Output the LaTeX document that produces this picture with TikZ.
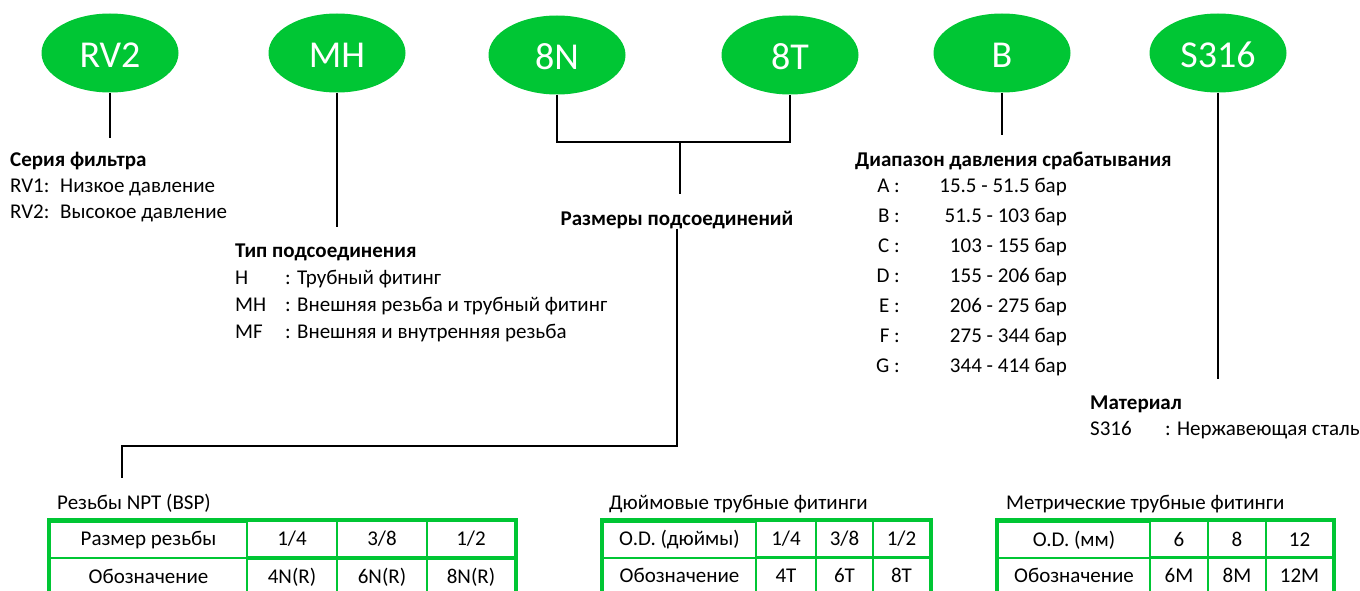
\documentclass[tikz,border=0pt]{standalone}
\usepackage{fontspec}
\setmainfont{Carlito}
\usetikzlibrary{shapes.geometric,positioning,matrix}
\definecolor{codegreen}{RGB}{0,198,52}

\begin{document}
\begin{tikzpicture}[x=1pt,y=-1pt,
  code/.style={ellipse,fill=codegreen,text=white,minimum width=137pt,
    minimum height=79pt,inner sep=0pt,text height=30pt,text depth=0pt,
    font=\fontsize{38}{42}\selectfont},
  lead/.style={line width=1.8pt},
  txt/.style={inner sep=0pt,font=\fontsize{21}{26}\selectfont},
  head/.style={inner sep=0pt,font=\fontsize{21}{26}\selectfont\bfseries},
  cell/.style={draw=codegreen,line width=2pt,minimum height=36pt,
    inner sep=0pt,outer sep=0pt,font=\fontsize{21}{24}\selectfont},
  codetable/.style={matrix of nodes,draw=codegreen,line width=4pt,
    inner sep=0pt,outer sep=0pt,column sep=-2pt,row sep=-2pt,
    nodes={cell},anchor=north west,ampersand replacement=\&}]
\useasboundingbox (0,0) rectangle (1360,591);
\clip (0,0) rectangle (1360,591);

% order code
\node[code] (rv2) at (110,53) {RV2};
\node[code] (mh) at (337,53) {MH};
\node[code] (n8) at (557,55) {8N};
\node[code] (t8) at (790,55) {8T};
\node[code] (b) at (1002,53) {B};
\node[code] (s316) at (1218,53) {S316};

\coordinate (rv2end) at (110,138);
\coordinate (mhend) at (337,227);
\coordinate (sizejoin) at (680,142);
\coordinate (sizeend) at (680,194);
\coordinate (bend) at (1002,135);
\coordinate (s316end) at (1218,379);
\coordinate (nptturn) at (122,446);
\coordinate (nptend) at (122,478);

% legends
\node[txt,anchor=base west] (series) at (10,166) {%
  \begin{tabular}[t]{@{}p{50pt}@{}l@{}}
  \multicolumn{2}{@{}l@{}}{\bfseries Серия фильтра}\\
  RV1: & Низкое давление\\
  RV2: & Высокое давление
  \end{tabular}};
\node[txt,anchor=base west,font=\fontsize{21}{27}\selectfont] (ports) at (235,257) {%
  \begin{tabular}[t]{@{}p{50pt}@{}l@{}}
  \multicolumn{2}{@{}l@{}}{\bfseries Тип подсоединения}\\
  H & : Трубный фитинг\\
  MH & : Внешняя резьба и трубный фитинг\\
  MF & : Внешняя и внутренняя резьба
  \end{tabular}};
\node[head,anchor=base] (sizes) at (677,225) {Размеры подсоединений};
\node[head,anchor=base west] (range) at (855,166) {Диапазон давления срабатывания};
\foreach \l/\v [count=\i] in {A/15.5 - 51.5,B/51.5 - 103,C/103 - 155,
  D/155 - 206,E/206 - 275,F/275 - 344,G/344 - 414}
{
  \node[txt,anchor=base east] (key\i) at (900,162+30*\i) {\l\ :};
  \node[txt,anchor=base east] (val\i) at (1067,162+30*\i) {\v\ бар};
}
\node[txt,anchor=base west] (material) at (1090,409) {%
  \begin{tabular}[t]{@{}p{75pt}@{}l@{}}
  \multicolumn{2}{@{}l@{}}{\bfseries Материал}\\
  S316 & : Нержавеющая сталь
  \end{tabular}};

\draw[lead] (rv2.south) -- (rv2end);
\draw[lead] (mh.south) -- (mhend);
\draw[lead] (n8.south) |- (sizejoin) -| (t8.south);
\draw[lead] (sizejoin) -- (sizeend);
\draw[lead] (b.south) -- (bend);
\draw[lead] (s316.south) -- (s316end);
\draw[lead] (sizes.south) |- (nptturn) -- (nptend);

% tables
\node[txt,anchor=base west] (npttitle) at (57,509) {Резьбы NPT (BSP)};
\matrix (npt) [codetable,at={(49,520)},
  column 1/.style={nodes={minimum width=197pt}},
  column 2/.style={nodes={minimum width=90pt}},
  column 3/.style={nodes={minimum width=90pt}},
  column 4/.style={nodes={minimum width=88pt}}]
{
Размер резьбы \& 1/4 \& 3/8 \& 1/2 \\
Обозначение \& 4N(R) \& 6N(R) \& 8N(R) \\
};
\node[txt,anchor=base west] (inchtitle) at (609,509) {Дюймовые трубные фитинги};
\matrix (inch) [codetable,at={(602,520)},
  column 1/.style={nodes={minimum width=153pt}},
  column 2/.style={nodes={minimum width=60pt}},
  column 3/.style={nodes={minimum width=57pt}},
  column 4/.style={nodes={minimum width=57pt}}]
{
O.D. (дюймы) \& 1/4 \& 3/8 \& 1/2 \\
Обозначение \& 4T \& 6T \& 8T \\
};
\node[txt,anchor=base west] (metrictitle) at (1006,509) {Метрические трубные фитинги};
\matrix (metric) [codetable,at={(997,520)},
  column 1/.style={nodes={minimum width=152pt}},
  column 2/.style={nodes={minimum width=58pt}},
  column 3/.style={nodes={minimum width=58pt}},
  column 4/.style={nodes={minimum width=67pt}}]
{
O.D. (мм) \& 6 \& 8 \& 12 \\
Обозначение \& 6M \& 8M \& 12M \\
};
\end{tikzpicture}
\end{document}
